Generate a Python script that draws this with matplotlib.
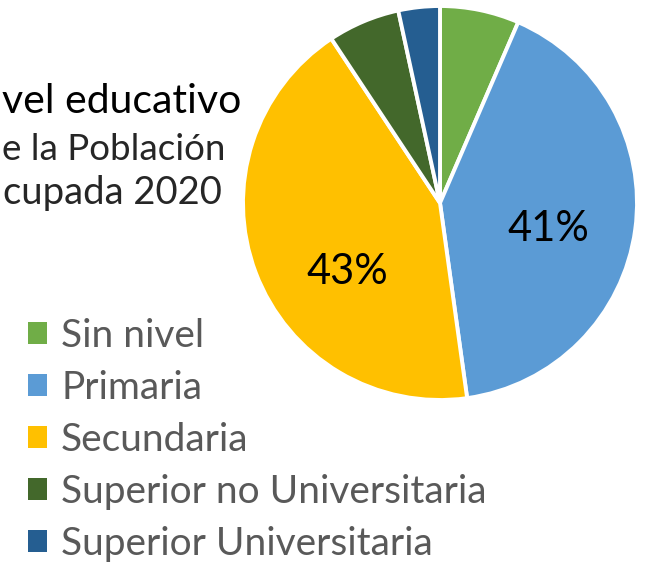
import matplotlib.pyplot as plt

# nivel educativo de la poblacion ocupada 2020 (%)
categorias = ["Sin nivel", "Primaria", "Secundaria",
              "Superior no Universitaria", "Superior Universitaria"]
porcentajes = [6.5, 41.3, 42.9, 5.9, 3.4]
colores = ["#70AD47", "#5B9BD5", "#FFC000", "#43682B", "#255E91"]
# title as visible in the (cropped) original
titulo = ["vel educativo", "e la Población", "cupada 2020"]

plt.rcParams["font.family"] = ["Lato", "DejaVu Sans"]

W, H = 648, 562
fig = plt.figure(figsize=(W / 100, H / 100), dpi=100)

# pie centred around (440, 203) px, radius ~197 px
r = 197
ax = fig.add_axes([(440 - r) / W, 1 - (203 + r) / H, 2 * r / W, 2 * r / H])


def etiqueta(pct):
    return "%d%%" % round(pct) if pct > 10 else ""


wedges, _, autotexts = ax.pie(
    porcentajes,
    colors=colores,
    startangle=90,
    counterclock=False,
    autopct=etiqueta,
    pctdistance=0.57,
    radius=1,
    wedgeprops=dict(edgecolor="white", linewidth=2.8),
    textprops=dict(fontsize=30, color="black"),
)
# excel-style label placement (shifted a bit downwards)
autotexts[1].set_position((0.55, -0.13))
autotexts[2].set_position((-0.47, -0.35))
ax.set_xlim(-1, 1)
ax.set_ylim(-1, 1)
ax.set_aspect("equal")
ax.axis("off")

fig.text(2 / W, 1 - 113 / H, titulo[0], ha="left", va="baseline",
         fontsize=29.5, color="black")
fig.text(2 / W, 1 - 160 / H, titulo[1], ha="left", va="baseline",
         fontsize=26.5, color="#262626")
fig.text(3 / W, 1 - 204 / H, titulo[2], ha="left", va="baseline",
         fontsize=27.5, color="#262626")

fig.legend(
    wedges,
    categorias,
    loc="upper left",
    bbox_to_anchor=(28 / W, 1 - 318 / H),
    frameon=False,
    fontsize=28,
    handlelength=0.5,
    handleheight=0.5,
    handletextpad=0.35,
    labelspacing=0.41,
    borderpad=0,
    borderaxespad=0,
    labelcolor="#595959",
)
for h in fig.legends[0].legend_handles:
    h.set_linewidth(0)

fig.savefig("out.png", dpi=100)
